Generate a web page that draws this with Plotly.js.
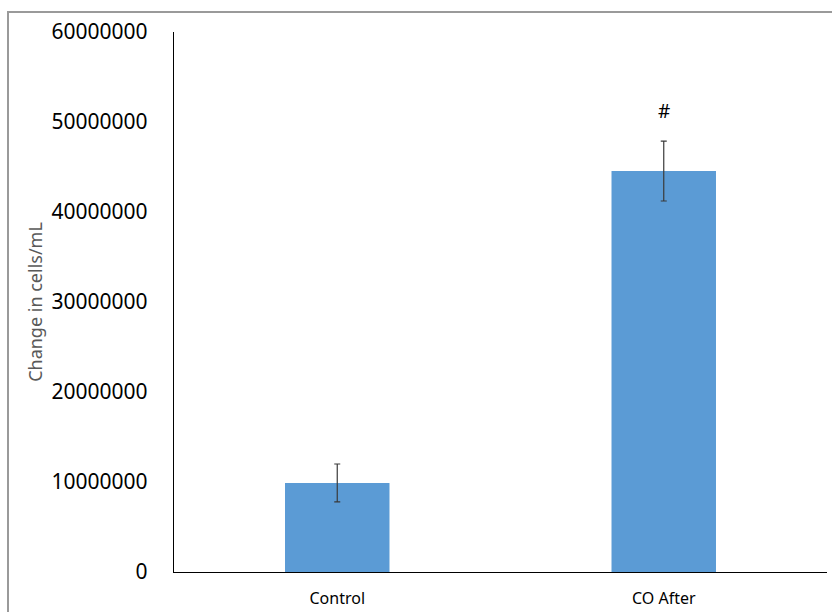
<!DOCTYPE html>
<html>
<head>
<meta charset="utf-8">
<script src="https://cdn.plot.ly/plotly-3.0.1.min.js"></script>
<style>
  html, body { margin: 0; padding: 0; background: #ffffff; }
  #wrap { position: relative; width: 832px; height: 612px; overflow: hidden; }
  #frame { position: absolute; left: 7px; top: 11px; width: 900px; height: 700px;
           border-left: 2px solid #9a9a9a; border-top: 2px solid #9a9a9a; pointer-events: none; }
  #chart { position: absolute; left: 0; top: 0; width: 832px; height: 612px; }
</style>
</head>
<body>
<div id="wrap">
  <div id="chart"></div>
  <div id="frame"></div>
</div>
<script>
const categories = ["Control", "CO After"];
const values = [9900000, 44550000];
const errors = [2100000, 3330000];
const markerLabels = ["", "#"];
const markerLevels = [null, 51200000];
const yTicks = [0, 10000000, 20000000, 30000000, 40000000, 50000000, 60000000];
const yTickText = ["0", "10000000", "20000000", "30000000", "40000000", "50000000", "60000000"];

const trace = {
  type: "bar",
  x: categories,
  y: values,
  marker: { color: "#5b9bd5", line: { width: 0 } },
  error_y: { type: "data", array: errors, visible: true, color: "#3a3a3a", thickness: 1.2, width: 3 },
  hoverinfo: "none"
};

const annotations = [];
categories.forEach((c, i) => {
  if (markerLabels[i]) {
    annotations.push({
      x: c, y: markerLevels[i], xref: "x", yref: "y",
      text: markerLabels[i], showarrow: false,
      font: { family: "Noto Sans, sans-serif", size: 19, color: "#000000" }
    });
  }
});

const layout = {
  width: 832, height: 612,
  margin: { l: 174, r: 5, t: 32, b: 40 },
  paper_bgcolor: "rgba(0,0,0,0)",
  plot_bgcolor: "#ffffff",
  showlegend: false,
  bargap: 0.68,
  font: { family: "Noto Sans, sans-serif" },
  xaxis: {
    type: "category",
    showline: true, linecolor: "#000000", linewidth: 1.3,
    ticks: "", showgrid: false, zeroline: false,
    tickfont: { family: "Noto Sans, sans-serif", size: 16, color: "#000000" },
    ticklabelstandoff: 11
  },
  yaxis: {
    range: [0, 60000000],
    tickvals: yTicks, ticktext: yTickText,
    showline: true, linecolor: "#000000", linewidth: 1.3,
    ticks: "", showgrid: false, zeroline: false,
    tickfont: { family: "Noto Sans, sans-serif", size: 21, color: "#000000" },
    ticklabelstandoff: 21,
    automargin: false,
    title: { text: "Change in cells/mL", standoff: 4,
             font: { family: "Noto Sans, sans-serif", size: 18, color: "#595959" } }
  },
  annotations: annotations
};

Plotly.newPlot("chart", [trace], layout, { displayModeBar: false, staticPlot: true });
</script>
</body>
</html>
